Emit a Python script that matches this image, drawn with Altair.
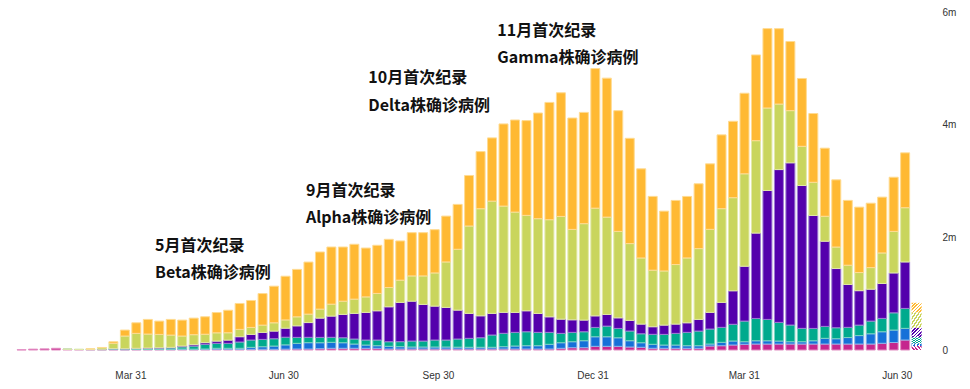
import altair as alt
import pandas as pd

# ---------------- data (weekly cases, thousands), stacked bottom -> top ----------------
REGIONS = ["Western Pacific", "Africa", "Eastern Mediterranean",
           "South-East Asia", "Europe", "Americas"]
FILLS = ["#C5268E", "#1570D8", "#00AA8D", "#5400AC", "#C9D55D", "#FFB933"]
EDGES = ["#E28DC2", "#8AB6EA", "#7DD3C2", "#9E7CD3", "#E2E9A8", "#FFDB92"]

week_start = pd.date_range("2020-01-20", periods=79, freq="7D").strftime("%Y-%m-%d").tolist()
partial_week = week_start[-1]          # last week is incomplete (hatched)

western_pacific = [4, 15, 20, 30, 14, 8, 6, 5, 7, 6,
                   7, 7, 7, 7, 8, 7, 8, 12, 12, 10,
                   12, 12, 12, 15, 18, 18, 23, 30, 30, 30,
                   30, 30, 18, 18, 18, 18, 18, 18, 18, 18,
                   18, 18, 18, 18, 18, 18, 18, 30, 41, 41,
                   65, 65, 65, 53, 48, 30, 30, 30, 30, 30,
                   71, 76, 89, 101, 106, 106, 106, 106, 106, 106,
                   106, 106, 106, 106, 106, 119, 133, 177, 71]
africa = [0, 0, 0, 0, 0, 0, 0, 0, 3, 2,
          3, 4, 5, 6, 10, 8, 10, 18, 18, 20,
          35, 46, 58, 76, 100, 112, 106, 106, 99, 76,
          58, 46, 48, 41, 35, 35, 35, 35, 32, 30,
          30, 30, 41, 53, 58, 58, 83, 99, 106, 124,
          170, 170, 152, 112, 81, 71, 58, 58, 46, 46,
          35, 60, 71, 46, 58, 58, 53, 41, 41, 58,
          101, 94, 115, 150, 182, 205, 221, 207, 48]
eastern_med = [0, 0, 0, 0, 1, 2, 5, 8, 12, 12,
               15, 18, 20, 24, 38, 55, 83, 88, 88, 112,
               130, 130, 130, 136, 106, 95, 95, 89, 89, 89,
               89, 101, 81, 89, 106, 106, 124, 124, 145, 159,
               170, 218, 237, 242, 248, 237, 212, 166, 166, 159,
               166, 189, 166, 172, 159, 177, 189, 207, 237, 260,
               266, 266, 296, 366, 396, 379, 331, 296, 237, 219,
               212, 195, 181, 186, 225, 237, 306, 354, 106]
south_east_asia = [0, 0, 0, 0, 0, 0, 0, 1, 2, 3,
                   5, 6, 8, 10, 15, 25, 30, 40, 58, 94,
                   100, 124, 136, 160, 205, 262, 342, 377, 414, 455,
                   490, 519, 620, 697, 708, 650, 602, 579, 513, 443,
                   389, 384, 372, 354, 372, 336, 276, 253, 223, 207,
                   205, 207, 188, 189, 172, 135, 165, 165, 170, 207,
                   296, 443, 595, 974, 1515, 2289, 2713, 2880, 2536, 2005,
                   1512, 1051, 761, 611, 566, 620, 708, 825, 170]
europe = [0, 0, 0, 0, 1, 3, 8, 28, 95, 225,
          265, 248, 237, 218, 177, 177, 149, 147, 130, 130,
          124, 130, 147, 147, 160, 150, 160, 212, 235, 253,
          276, 308, 343, 395, 448, 506, 589, 807, 1080, 1551,
          1901, 1993, 1887, 1781, 1694, 1682, 1724, 1823, 1605, 1712,
          1912, 1728, 1535, 1363, 1174, 1004, 961, 1057, 1151, 1257,
          1474, 1664, 1653, 1641, 1641, 1464, 1163, 926, 696, 589,
          443, 382, 342, 322, 384, 542, 738, 963, 273]
americas = [0, 0, 0, 0, 0, 0, 1, 3, 28, 106,
            188, 260, 236, 278, 283, 294, 310, 360, 400, 460,
            478, 560, 650, 776, 842, 924, 1014, 1014, 961, 974,
            867, 855, 855, 696, 768, 768, 768, 814, 797, 897,
            1014, 1122, 1458, 1635, 1682, 1876, 2082, 2195, 1977, 1975,
            2478, 2467, 2142, 1869, 1582, 1310, 1062, 1138, 1092, 1151,
            1163, 1310, 1356, 1430, 1522, 1409, 1338, 1227, 1204, 1221,
            1209, 1193, 1151, 1161, 1143, 991, 961, 974, 170]

SERIES = [western_pacific, africa, eastern_med, south_east_asia, europe, americas]

ann_text = ["5月首次纪录", "Beta株确诊病例",
            "9月首次纪录", "Alpha株确诊病例",
            "10月首次纪录", "Delta株确诊病例",
            "11月首次纪录", "Gamma株确诊病例"]
ann_date = ["2020-04-14T15:15:00Z", "2020-04-14T15:15:00Z",
            "2020-07-13T11:45:00Z", "2020-07-13T11:45:00Z",
            "2020-08-19T13:30:00Z", "2020-08-19T13:30:00Z",
            "2020-11-04T08:00:00Z", "2020-11-04T08:00:00Z"]
ann_y = [1846, 1368, 2823, 2345, 4823, 4327, 5669, 5181]

y_ticks = [0, 2000, 4000, 6000]
x_tick_dates = [(2020, 3, 31), (2020, 6, 30), (2020, 9, 30),
                (2020, 12, 31), (2021, 3, 31), (2021, 6, 30)]

# ---------------- tables ----------------
rows = []
for k, (name, series) in enumerate(zip(REGIONS, SERIES)):
    for d, v in zip(week_start, series):
        rows.append({"week": d, "region": name, "ord": k, "value": v,
                     "partial": d == partial_week})
df = pd.DataFrame(rows)
ann = pd.DataFrame({"text": ann_text, "date": ann_date, "y": ann_y})

# ---------------- scales / axes ----------------
bar_x_scale = alt.Scale(type="utc", domain=[
    alt.DateTime(year=2020, month=1, date=14, hours=18, utc=True),
    alt.DateTime(year=2021, month=7, date=25, hours=8, minutes=10, utc=True)])
axis_x_scale = alt.Scale(type="utc", domain=[
    alt.DateTime(year=2020, month=1, date=18, hours=3, minutes=50, utc=True),
    alt.DateTime(year=2021, month=7, date=21, hours=0, minutes=15, utc=True)])
y_scale = alt.Scale(domain=[0, 6000], nice=False, zero=True)

y_axis = alt.Axis(orient="right", values=y_ticks,
                  labelExpr="datum.value == 0 ? '0' : (datum.value / 1000) + 'm'",
                  grid=False, domain=False, ticks=False, tickSize=0,
                  labelPadding=10, labelAlign="left", labelBaseline="middle",
                  labelFont="Liberation Sans", labelFontSize=10, labelColor="#333333",
                  title=None)
x_axis = alt.Axis(orient="bottom",
                  values=[alt.DateTime(year=a, month=b, date=c, utc=True) for a, b, c in x_tick_dates],
                  labelExpr="utcFormat(datum.value, '%b %d')",
                  grid=False, domain=False, ticks=False, tickSize=0,
                  labelPadding=20, labelFont="Liberation Sans", labelFontSize=10,
                  labelColor="#333333", labelFlush=False, labelOverlap=False, title=None)

# ---------------- layers ----------------
bars = alt.Chart(df).transform_filter(
    "!datum.partial && datum.value > 0"
).mark_bar(width=9, strokeWidth=1).encode(
    x=alt.X("week:T", scale=bar_x_scale, axis=None),
    y=alt.Y("value:Q", stack="zero", scale=y_scale, axis=y_axis),
    color=alt.Color("region:N", scale=alt.Scale(domain=REGIONS, range=FILLS), legend=None),
    stroke=alt.Stroke("region:N", scale=alt.Scale(domain=REGIONS, range=EDGES), legend=None),
    order=alt.Order("ord:Q", sort="ascending"),
)


def stripes(color, n=6):
    stops = []
    for k in range(n):
        a, b, c = k / n, (k + 0.5) / n, (k + 1) / n
        stops += [alt.GradientStop(offset=a, color=color),
                  alt.GradientStop(offset=b, color=color),
                  alt.GradientStop(offset=b, color="#ffffff"),
                  alt.GradientStop(offset=c, color="#ffffff")]
    return alt.LinearGradient(gradient="linear", stops=stops, x1=0, y1=0, x2=1, y2=1)


partial_base = alt.Chart(df).transform_filter("datum.partial").transform_stack(
    stack="value", groupby=["week"], as_=["y0", "y1"],
    sort=[alt.SortField("ord", order="ascending")])

hatched = []
for k, name in enumerate(REGIONS):
    hatched.append(
        partial_base.transform_filter(alt.datum.ord == k)
        .mark_bar(width=10, fill=stripes(FILLS[k]))
        .encode(x=alt.X("week:T", scale=bar_x_scale, axis=None),
                y=alt.Y("y0:Q", scale=y_scale, axis=y_axis),
                y2="y1:Q")
    )

labels = alt.Chart(ann).mark_text(
    align="left", baseline="middle", font="Noto Sans CJK SC",
    fontWeight="bold", fontSize=16, color="#111111"
).encode(
    x=alt.X("date:T", scale=axis_x_scale, axis=x_axis),
    y=alt.Y("y:Q", scale=y_scale, axis=y_axis),
    text="text:N",
)

chart = alt.layer(bars, *hatched, labels).resolve_scale(
    x="independent", y="shared"
).resolve_axis(y="shared").properties(
    width=924, height=338,
    autosize=alt.AutoSizeParams(type="none"),
    padding={"left": 0, "top": 4, "right": 30, "bottom": 31},
).configure_view(stroke=None)

chart.save("out.html", embed_options={"renderer": "svg", "actions": False})
